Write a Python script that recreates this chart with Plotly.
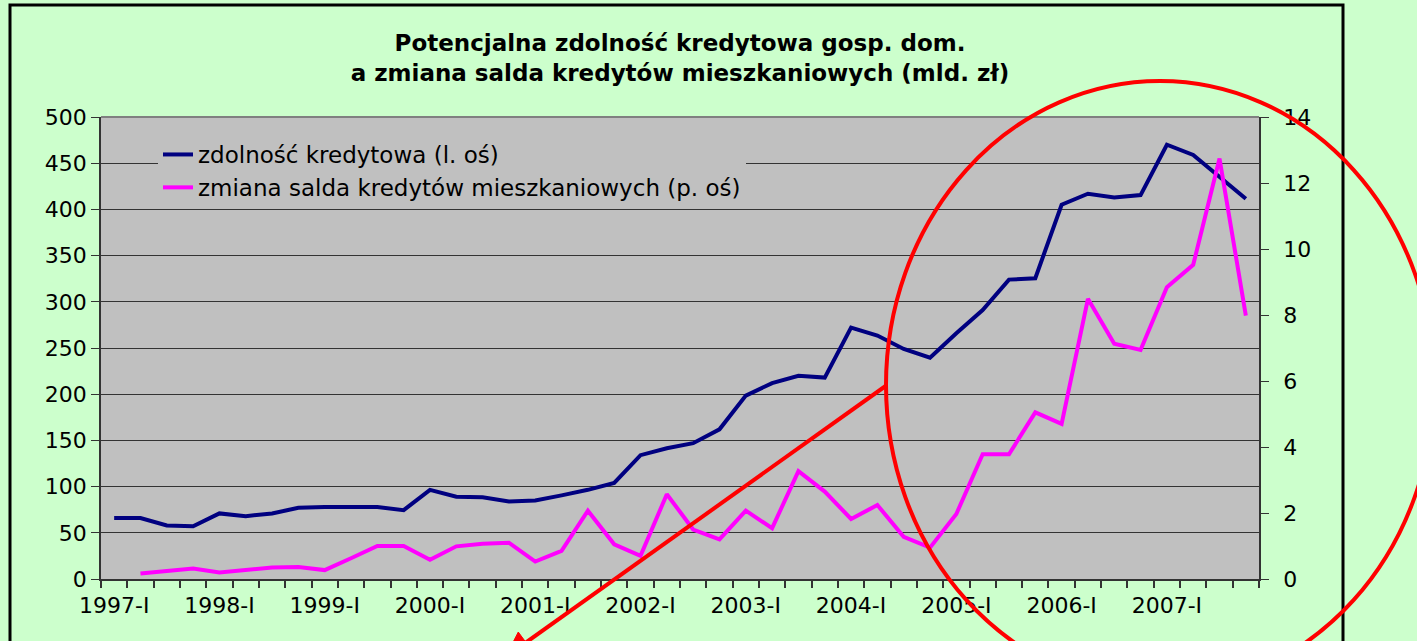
import plotly.graph_objects as go

# ---- data ----
years = ["1997", "1998", "1999", "2000", "2001", "2002", "2003", "2004", "2005", "2006", "2007"]
roman = ["I", "II", "III", "IV"]
quarters = [f"{y}-{r}" for y in years for r in roman]

zdolnosc = [66, 66, 58, 57, 71, 68, 71, 77, 78, 78.5, 78, 74.5,
            96.5, 89, 88.5, 84, 85, 90.5, 96.5, 104, 134, 141.5, 147, 162,
            198.5, 212, 220, 218, 272, 263.5, 249, 239.5, 266, 291, 324, 325.5,
            405, 417, 413, 415.5, 470, 459, 435.5, 411.5]

zmiana_salda = [None, 0.17, 0.23, 0.32, 0.2, 0.27, 0.35, 0.36, 0.27, 0.63, 1.0, 1.0,
                0.58, 0.99, 1.07, 1.1, 0.53, 0.85, 2.07, 1.05, 0.7, 2.57, 1.5, 1.2,
                2.07, 1.54, 3.27, 2.65, 1.82, 2.24, 1.28, 0.95, 1.97, 3.78, 3.78, 5.05,
                4.7, 8.49, 7.13, 6.94, 8.84, 9.52, 12.74, 7.98]

label_quarters = [q for q in quarters if q.endswith("-I")]

title_lines = ["Potencjalna zdolność kredytowa gosp. dom.",
               "a zmiana salda kredytów mieszkaniowych (mld. zł)"]
name_left = "zdolność kredytowa (l. oś)"
name_right = "zmiana salda kredytów mieszkaniowych (p. oś)"

# ---- layout geometry ----
W, H = 1417, 641
PL, PR, PT, PB = 101, 1259, 117, 579

def px(xp):
    return (xp - PL) / (PR - PL)

def py(yp):
    return (PB - yp) / (PB - PT)

FONT = "DejaVu Sans"
xidx = list(range(len(quarters)))

fig = go.Figure()
fig.add_trace(go.Scatter(x=xidx, y=zdolnosc, name=name_left, mode="lines",
                         line=dict(color="#000080", width=4), text=quarters,
                         hovertemplate="%{text}: %{y}<extra></extra>"))
fig.add_trace(go.Scatter(x=xidx, y=zmiana_salda, name=name_right, mode="lines",
                         line=dict(color="#FF00FF", width=4), yaxis="y2", text=quarters,
                         hovertemplate="%{text}: %{y}<extra></extra>"))

boundaries = [i - 0.5 for i in range(len(quarters) + 1)]
tickpos = [quarters.index(q) for q in label_quarters]

fig.update_layout(
    width=W, height=H,
    margin=dict(l=PL, r=W - PR, t=PT, b=H - PB),
    paper_bgcolor="#CCFFCC",
    plot_bgcolor="#C0C0C0",
    font=dict(family=FONT, color="black", size=22),
    title=dict(text="<b>" + "<br>".join(title_lines) + "</b>",
               x=0.5, xref="paper", xanchor="center",
               y=1 - 51 / H, yref="container", yanchor="top",
               font=dict(family=FONT, size=23, color="black")),
    xaxis=dict(range=[-0.5, len(quarters) - 0.5], tickmode="array",
               tickvals=tickpos, ticktext=label_quarters, ticks="",
               showgrid=False, zeroline=False, showline=True,
               linecolor="#333333", linewidth=1.5,
               ticklabelstandoff=6,
               tickfont=dict(size=22),
               minor=dict(tickmode="array", tickvals=boundaries, ticks="outside",
                          ticklen=7, tickcolor="#333333", tickwidth=1.5, showgrid=False)),
    yaxis=dict(range=[0, 500], dtick=50, tick0=0, showgrid=True,
               gridcolor="#333333", gridwidth=1, zeroline=False,
               showline=True, linecolor="#333333", linewidth=1.5,
               ticks="outside", ticklen=8, tickcolor="#333333",
               tickfont=dict(size=22)),
    yaxis2=dict(range=[0, 14], dtick=2, tick0=0, overlaying="y", side="right",
                showgrid=False, zeroline=False, showline=True,
                linecolor="#333333", linewidth=1.5,
                ticks="outside", ticklen=8, tickcolor="#333333",
                ticklabelstandoff=10, tickfont=dict(size=22)),
    legend=dict(x=px(158), y=py(133), xanchor="left", yanchor="top",
                bgcolor="#C0C0C0", borderwidth=0,
                font=dict(family=FONT, size=23, color="black")),
    showlegend=True,
)

# plot-area top border
fig.add_shape(type="line", xref="paper", yref="paper", x0=0, x1=1, y0=1, y1=1,
              line=dict(color="#808080", width=2), layer="above")
# outer chart frame
fig.add_shape(type="rect", xref="paper", yref="paper",
              x0=px(10), x1=px(1343), y0=py(665), y1=py(5),
              line=dict(color="black", width=3), layer="above")
# red ellipse
fig.add_shape(type="circle", xref="paper", yref="paper",
              x0=px(886), x1=px(1434), y0=py(689), y1=py(81),
              line=dict(color="#FF0000", width=4), layer="above")

# red arrow: shaft + head (pixel geometry converted to paper coords)
tail = (887, 385)
base = (526, 642.5)
tip = (505, 658)
ux, uy = (tip[0] - base[0]), (tip[1] - base[1])
L = (ux ** 2 + uy ** 2) ** 0.5
nx, ny = -uy / L, ux / L
hw = 13
c1 = (base[0] + hw * nx, base[1] + hw * ny)
c2 = (base[0] - hw * nx, base[1] - hw * ny)
fig.add_shape(type="line", xref="paper", yref="paper",
              x0=px(tail[0]), y0=py(tail[1]), x1=px(base[0]), y1=py(base[1]),
              line=dict(color="#FF0000", width=4), layer="above")
path = "M {} {} L {} {} L {} {} Z".format(px(tip[0]), py(tip[1]), px(c1[0]), py(c1[1]),
                                          px(c2[0]), py(c2[1]))
fig.add_shape(type="path", xref="paper", yref="paper", path=path,
              fillcolor="#FF0000", line=dict(color="#FF0000", width=1), layer="above")

fig.write_html("out.html", config={"displayModeBar": False},
               post_script="document.body.style.margin='0';document.body.style.overflow='hidden';")
